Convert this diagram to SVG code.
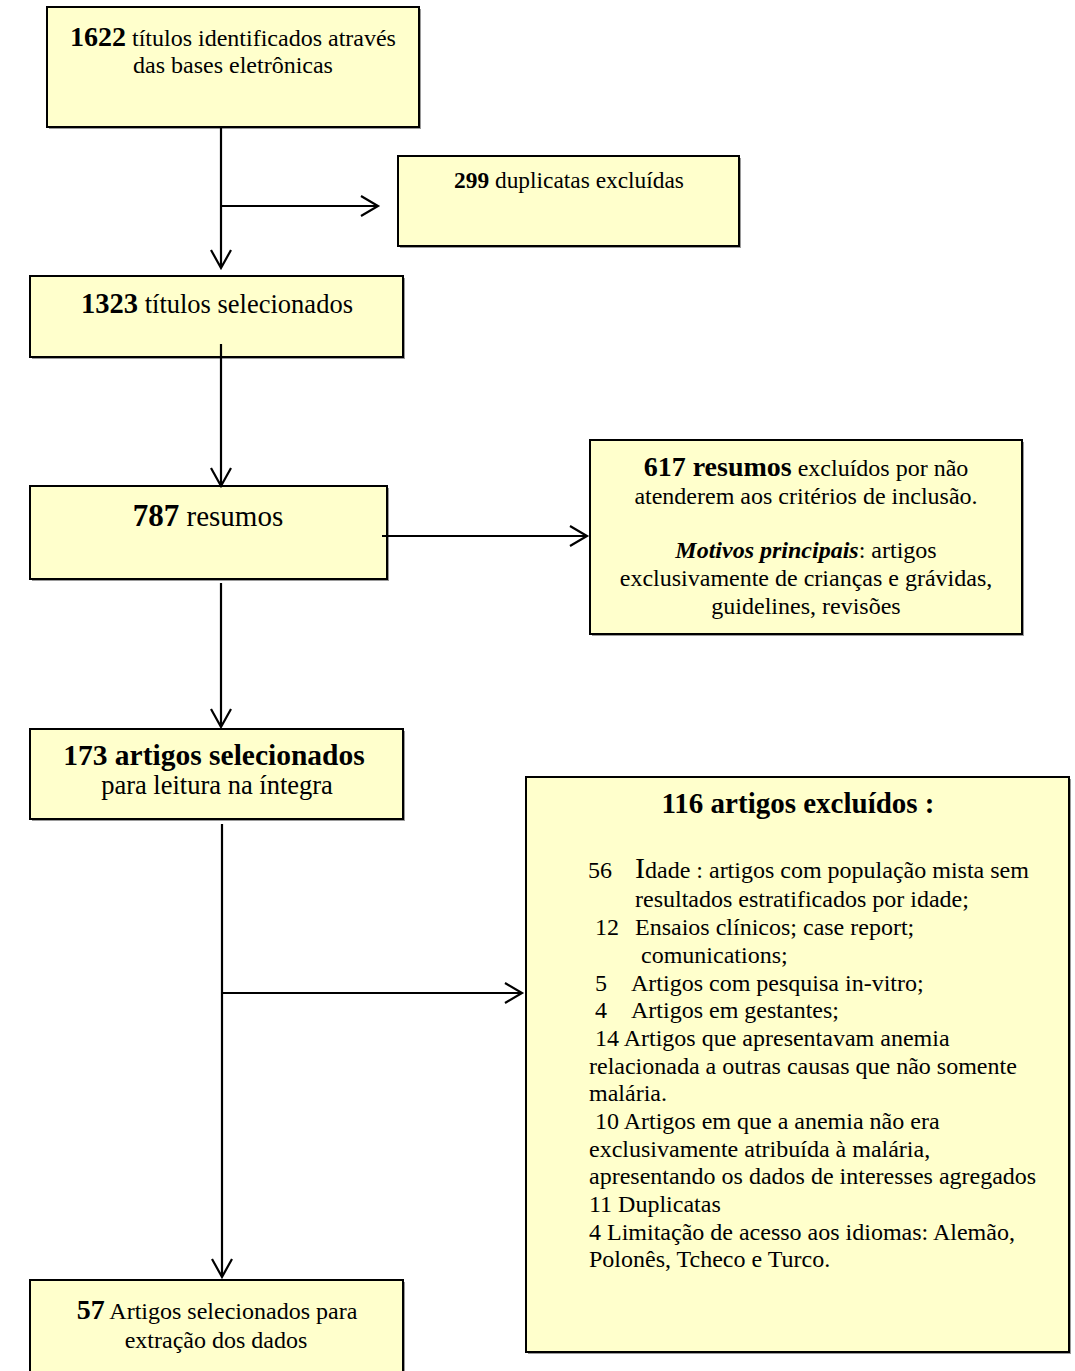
<svg xmlns="http://www.w3.org/2000/svg" width="1075" height="1371" viewBox="0 0 1075 1371">
<style>
.box{fill:#FFFFCC;stroke:#000;stroke-width:2}
.shadow{fill:#9a9a9a}
.conn{fill:none;stroke:#000;stroke-width:2.2}
text{font-family:"Liberation Serif","Times New Roman",serif;fill:#000;font-size:24px}
.c{text-anchor:middle}
.b{font-weight:bold;font-size:28px}
</style>
<rect width="1075" height="1371" fill="#fff"/>
<g id="n1622">
<rect class="shadow" x="49" y="9" width="372" height="120"/>
<rect class="box" x="47" y="7" width="372" height="120"/>
<text class="c" x="233" y="46"><tspan class="b">1622</tspan> títulos identificados através</text>
<text class="c" x="233" y="73">das bases eletrônicas</text>
</g>
<g id="n299">
<rect class="shadow" x="400" y="158" width="341" height="90"/>
<rect class="box" x="398" y="156" width="341" height="90"/>
<text class="c" x="569" y="188" style="font-size:23.4px"><tspan font-weight="bold">299</tspan> duplicatas excluídas</text>
</g>
<g id="n1323">
<rect class="shadow" x="32" y="278" width="373" height="81"/>
<rect class="box" x="30" y="276" width="373" height="81"/>
<text class="c" x="217" y="313" style="font-size:26.5px"><tspan class="b" style="font-size:28.5px">1323</tspan> títulos selecionados</text>
</g>
<g id="n787">
<rect class="shadow" x="32" y="488" width="357" height="93"/>
<rect class="box" x="30" y="486" width="357" height="93"/>
<text class="c" x="208" y="526" style="font-size:29px"><tspan class="b" style="font-size:31px">787</tspan> resumos</text>
</g>
<g id="n617">
<rect class="shadow" x="592" y="442" width="432" height="194"/>
<rect class="box" x="590" y="440" width="432" height="194"/>
<text class="c" x="806" y="476"><tspan class="b">617 resumos</tspan> excluídos por não</text>
<text class="c" x="806" y="504">atenderem aos critérios de inclusão.</text>
<text class="c" x="806" y="558"><tspan font-weight="bold" font-style="italic">Motivos principais</tspan>: artigos</text>
<text class="c" x="806" y="586">exclusivamente de crianças e grávidas,</text>
<text class="c" x="806" y="614">guidelines, revisões</text>
</g>
<g id="n173">
<rect class="shadow" x="32" y="731" width="373" height="90"/>
<rect class="box" x="30" y="729" width="373" height="90"/>
<text class="c b" x="214" y="765" style="font-size:29.5px">173 artigos selecionados</text>
<text class="c" x="217" y="794" style="font-size:26.5px">para leitura na íntegra</text>
</g>
<g id="n116">
<rect class="shadow" x="528" y="779" width="543" height="575"/>
<rect class="box" x="526" y="777" width="543" height="575"/>
<text class="c b" x="798" y="813" style="font-size:29px">116 artigos excluídos :</text>
<g style="font-size:23.5px">
<text x="588" y="878">56<tspan x="635" style="font-size:30px">I</tspan>dade : artigos com população mista sem</text>
<text x="635" y="907">resultados estratificados por idade;</text>
<text x="595" y="935">12<tspan x="635">Ensaios clínicos; case report;</tspan></text>
<text x="641" y="963">comunications;</text>
<text x="595" y="991">5<tspan x="631">Artigos com pesquisa in-vitro;</tspan></text>
<text x="595" y="1018">4<tspan x="631">Artigos em gestantes;</tspan></text>
<text x="595" y="1046">14 Artigos que apresentavam anemia</text>
<text x="589" y="1074">relacionada a outras causas que não somente</text>
<text x="589" y="1101">malária.</text>
<text x="595" y="1129">10 Artigos em que a anemia não era</text>
<text x="589" y="1157">exclusivamente atribuída à malária,</text>
<text x="589" y="1184">apresentando os dados de interesses agregados</text>
<text x="589" y="1212">11 Duplicatas</text>
<text x="589" y="1240">4 Limitação de acesso aos idiomas: Alemão,</text>
<text x="589" y="1267">Polonês, Tcheco e Turco.</text>
</g>
</g>
<g id="n57">
<rect class="shadow" x="32" y="1282" width="373" height="100"/>
<rect class="box" x="30" y="1280" width="373" height="100"/>
<text class="c" x="217" y="1319"><tspan class="b">57</tspan> Artigos selecionados para</text>
<text class="c" x="216" y="1348">extração dos dados</text>
</g>
<g id="connectors">
<path class="conn" d="M221 127 V268 M211 250 L221 268 L231 250"/>
<path class="conn" d="M221 206 H378 M361 196 L378 206 L361 216"/>
<path class="conn" d="M221 344 V486 M211 468 L221 486 L231 468"/>
<path class="conn" d="M221 583 V727 M211 709 L221 727 L231 709"/>
<path class="conn" d="M382 536 H587 M570 526 L587 536 L570 546"/>
<path class="conn" d="M222 824 V1277 M212 1259 L222 1277 L232 1259"/>
<path class="conn" d="M222 993 H522 M505 983 L522 993 L505 1003"/>
</g>
</svg>
